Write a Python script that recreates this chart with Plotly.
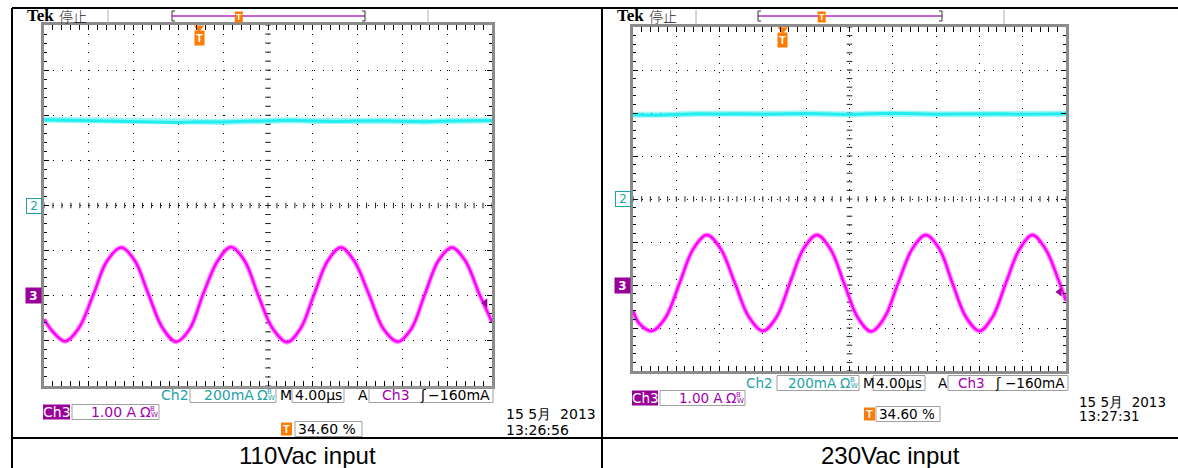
import numpy as np
import plotly.graph_objects as go

W, H = 1178, 468

# ---------------- data ----------------
TIME_PER_DIV_US = 4.0        # M 4.00 µs
N_DIV_X = 10
N_DIV_Y = 8
CH2_MA_PER_DIV = 200         # Ch2 200 mA/div
CH2_OFFSET_DIV = 0           # Ch2 ground marker at screen centre
CH3_A_PER_DIV = 1.0          # Ch3 1.00 A/div
CH3_OFFSET_DIV = -2          # Ch3 ground marker two divisions below centre
TRIG_POS_PCT = 34.60         # trigger position
TRIG_LEVEL_MA = -160         # Ch3 trigger level

captions = ["110Vac input", "230Vac input"]
dates = ["15 5月  2013", "15 5月  2013"]
times = ["13:26:56", "13:27:31"]

# Ch3 (magenta) current, A
left_ch3_t = [0.0, 0.8, 1.9, 3.1, 4.4, 5.6, 6.9, 8.1, 9.3, 10.6, 11.8, 13.0, 14.2, 15.5, 16.7,
              17.9, 19.1, 20.4, 21.7, 22.9, 24.1, 25.3, 26.5, 27.7, 29.0, 30.3, 31.6, 32.8,
              34.0, 35.2, 36.4, 37.6, 38.9, 40.0]
left_ch3_A = [-0.52, -0.80, -1.01, -0.72, 0.02, 0.76, 1.07, 0.78, 0.05, -0.72, -1.02, -0.74,
              0.03, 0.77, 1.08, 0.78, 0.03, -0.72, -1.03, -0.73, 0.02, 0.76, 1.07, 0.77, 0.04,
              -0.73, -1.02, -0.73, 0.03, 0.77, 1.07, 0.78, 0.02, -0.58]

right_ch3_t = [0.0, 0.6, 1.75, 3.0, 4.3, 5.55, 6.83, 8.1, 9.4, 10.7, 12.0, 13.25, 14.5, 15.75,
               17.0, 18.25, 19.5, 20.75, 22.0, 23.25, 24.5, 25.8, 27.05, 28.3, 29.5, 30.75,
               32.0, 33.2, 34.45, 35.7, 36.9, 38.1, 39.3, 40.0]
right_ch3_A = [-0.60, -0.90, -1.07, -0.76, 0.04, 0.83, 1.16, 0.84, 0.05, -0.74, -1.07, -0.75,
               0.05, 0.84, 1.16, 0.83, 0.04, -0.75, -1.08, -0.75, 0.05, 0.84, 1.16, 0.84, 0.05,
               -0.74, -1.07, -0.75, 0.05, 0.83, 1.16, 0.84, 0.12, -0.37]

# Ch2 (cyan) current, mA
left_ch2_t = [0, 2, 4, 6, 8, 10, 12, 14, 16, 18, 20, 22, 24, 26, 28, 30, 32, 34, 36, 38, 40]
left_ch2_mA = [380, 378, 379, 377, 372, 370, 368, 371, 370, 373, 376, 378, 375, 372, 374,
               376, 373, 371, 374, 375, 377]
right_ch2_t = [0, 2, 4, 6, 8, 10, 12, 14, 16, 18, 20, 22, 24, 26, 28, 30, 32, 34, 36, 38, 40]
right_ch2_mA = [392, 390, 393, 396, 395, 397, 394, 396, 398, 395, 393, 396, 399, 397, 394,
                395, 397, 396, 394, 395, 396]

# ---------------- styling ----------------
FONT = "DejaVu Sans"
TEAL = "#1fa3a8"
PURPLE = "#a000b0"
PURPLE_FILL = "#990099"
MAGENTA = "#ff00ff"
CYAN = "#22eef0"
ORANGE = "#ff7a00"
FRAME = "#8c8c8c"

T_SPAN = N_DIV_X * TIME_PER_DIV_US
trig_t = TRIG_POS_PCT / 100.0 * T_SPAN
ch3_lo = (-N_DIV_Y / 2 - CH3_OFFSET_DIV) * CH3_A_PER_DIV
ch3_hi = (N_DIV_Y / 2 - CH3_OFFSET_DIV) * CH3_A_PER_DIV
ch3_mid = (ch3_lo + ch3_hi) / 2
ch2_lo = (-N_DIV_Y / 2 - CH2_OFFSET_DIV) * CH2_MA_PER_DIV
ch2_hi = (N_DIV_Y / 2 - CH2_OFFSET_DIV) * CH2_MA_PER_DIV

panels = [
    dict(x0=44, x1=492, y0=25, y1=386, xa="x", ya="y", ya2="y2",
         t3=left_ch3_t, v3=left_ch3_A, t2=left_ch2_t, v2=left_ch2_mA,
         row1=395, row2=412, row3=429, fs=14,
         ch2=160, b1=(190, 276), m=279, b2=(292, 344), a=357, b3=(369, 493),
         ch3=(43, 70), b4=(72, 159), ticon=(281, 292), b5=(295, 362),
         date=(505, 414, 430), hdr=dict(tek=26, sep1=108, bar=(172, 365), sep2=428)),
    dict(x0=633, x1=1066, y0=27, y1=371, xa="x2", ya="y3", ya2="y4",
         t3=right_ch3_t, v3=right_ch3_A, t2=right_ch2_t, v2=right_ch2_mA,
         row1=383, row2=398, row3=414, fs=13.5,
         ch2=745, b1=(777, 859), m=862, b2=(873, 925), a=937, b3=(948, 1068),
         ch3=(632, 658), b4=(660, 745), ticon=(864, 875), b5=(876, 940),
         date=(1078, 402, 416), hdr=dict(tek=616, sep1=696, bar=(758, 942), sep2=1004)),
]


def px(x):
    return x / W


def py(y):
    return 1 - y / H


fig = go.Figure()
annotations = []
shapes = []


def txt(x, y, text, color="black", size=14, family=FONT, anchor="left", weight="normal"):
    annotations.append(dict(xref="paper", yref="paper", x=px(x), y=py(y), xanchor=anchor,
                            yanchor="middle", text=text, showarrow=False, borderpad=0,
                            font=dict(family=family, size=size, color=color, weight=weight)))


def rect(x0, x1, yc, h, line="#a0a0a0", fill=None):
    shapes.append(dict(type="rect", xref="paper", yref="paper", x0=px(x0), x1=px(x1),
                       y0=py(yc + h / 2), y1=py(yc - h / 2),
                       line=dict(color=line, width=1 if line else 0),
                       fillcolor=fill if fill else "rgba(0,0,0,0)"))


for i, p in enumerate(panels):
    xa, ya, ya2 = p["xa"], p["ya"], p["ya2"]
    fs = p["fs"]
    # centre-line tick marks (graticule)
    cx = np.arange(0, T_SPAN + 1e-9, TIME_PER_DIV_US / 5)
    fig.add_trace(go.Scatter(x=cx, y=np.full_like(cx, ch3_mid), xaxis=xa, yaxis=ya, mode="markers",
                             marker=dict(symbol="line-ns", size=4, line=dict(width=1, color="#222")),
                             hoverinfo="skip", showlegend=False))
    cy = np.arange(ch3_lo, ch3_hi + 1e-9, CH3_A_PER_DIV / 5)
    fig.add_trace(go.Scatter(x=np.full_like(cy, T_SPAN / 2), y=cy, xaxis=xa, yaxis=ya, mode="markers",
                             marker=dict(symbol="line-ew", size=4, line=dict(width=1, color="#222")),
                             hoverinfo="skip", showlegend=False))
    # Ch2 cyan trace (noisy band)
    fig.add_trace(go.Scatter(x=p["t2"], y=p["v2"], xaxis=xa, yaxis=ya2, mode="lines",
                             line=dict(color=CYAN, width=6), opacity=0.45,
                             hoverinfo="skip", showlegend=False))
    fig.add_trace(go.Scatter(x=p["t2"], y=p["v2"], xaxis=xa, yaxis=ya2, mode="lines",
                             line=dict(color=CYAN, width=3),
                             hoverinfo="skip", showlegend=False))
    # Ch3 magenta trace
    fig.add_trace(go.Scatter(x=p["t3"], y=p["v3"], xaxis=xa, yaxis=ya, mode="lines",
                             line=dict(color=MAGENTA, width=5, shape="spline", smoothing=1.0),
                             opacity=0.4, hoverinfo="skip", showlegend=False))
    fig.add_trace(go.Scatter(x=p["t3"], y=p["v3"], xaxis=xa, yaxis=ya, mode="lines",
                             line=dict(color=MAGENTA, width=2.5, shape="spline", smoothing=1.0),
                             hoverinfo="skip", showlegend=False))
    # trigger level marker at right edge
    fig.add_trace(go.Scatter(x=[T_SPAN * 0.985], y=[TRIG_LEVEL_MA / 1000.0], xaxis=xa, yaxis=ya,
                             mode="markers", cliponaxis=False,
                             marker=dict(symbol="triangle-left", size=8, color=PURPLE_FILL),
                             hoverinfo="skip", showlegend=False))
    # trigger position marker at top
    fig.add_trace(go.Scatter(x=[trig_t], y=[ch3_hi - 0.06 * CH3_A_PER_DIV], xaxis=xa, yaxis=ya,
                             mode="markers", cliponaxis=False,
                             marker=dict(symbol="triangle-down", size=9, color=ORANGE),
                             hoverinfo="skip", showlegend=False))
    annotations.append(dict(xref=xa, yref="paper", x=trig_t, y=py(p["y0"] + 5), yanchor="top",
                            text="T", showarrow=False, bgcolor=ORANGE, borderpad=1,
                            font=dict(family="Liberation Sans", size=11, color="white", weight="bold")))

    # ground markers
    annotations.append(dict(xref="paper", yref=ya2, x=px(p["x0"] - 2), y=0, xanchor="right",
                            yanchor="middle", text="2", showarrow=False, bgcolor="white",
                            bordercolor=TEAL, borderwidth=1, borderpad=0, width=14, height=14,
                            font=dict(family=FONT, size=12, color=TEAL)))
    annotations.append(dict(xref="paper", yref=ya, x=px(p["x0"] - 2), y=0, xanchor="right",
                            yanchor="middle", text="3", showarrow=False, bgcolor=PURPLE_FILL,
                            borderpad=0, width=15, height=15,
                            font=dict(family=FONT, size=12, color="white", weight="bold")))

    # ---- status line 1 ----
    r1 = p["row1"]
    txt(p["ch2"], r1, "Ch2", TEAL, fs)
    b = p["b1"]
    rect(b[0], b[1], r1, 15)
    txt(b[1] - 21, r1, f"{CH2_MA_PER_DIV}mA", TEAL, fs, anchor="right")
    txt(b[1] - 20, r1, "Ω", TEAL, fs)
    txt(b[1] - 10, r1 - 3, "B", TEAL, 7)
    txt(b[1] - 9, r1 + 3, "W", TEAL, 7)
    txt(p["m"], r1, "M", "black", fs)
    b = p["b2"]
    rect(b[0], b[1], r1, 15)
    txt(b[0] + 2, r1, f"{TIME_PER_DIV_US:.2f}µs", "black", fs)
    txt(p["a"], r1, "A", "black", fs)
    b = p["b3"]
    rect(b[0], b[1], r1, 15)
    txt(b[1] - 2, r1, f"−{abs(TRIG_LEVEL_MA)}mA", "black", fs, anchor="right")
    txt(b[1] - 70, r1, "ʃ", "black", fs, anchor="center")
    txt(b[1] - 82, r1, "Ch3", PURPLE, fs, anchor="right")

    # ---- status line 2 ----
    r2 = p["row2"]
    c = p["ch3"]
    rect(c[0], c[1], r2, 15, line=None, fill=PURPLE_FILL)
    txt((c[0] + c[1]) / 2, r2, "Ch3", "white", fs, anchor="center")
    b = p["b4"]
    rect(b[0], b[1], r2, 15)
    txt(b[1] - 21, r2, f"{CH3_A_PER_DIV:.2f} A", PURPLE, fs, anchor="right")
    txt(b[1] - 20, r2, "Ω", PURPLE, fs)
    txt(b[1] - 10, r2 - 3, "B", PURPLE, 7)
    txt(b[1] - 9, r2 + 3, "W", PURPLE, 7)

    # ---- status line 3 ----
    r3 = p["row3"]
    tc = p["ticon"]
    rect(tc[0], tc[1], r3, 13, line=None, fill=ORANGE)
    txt((tc[0] + tc[1]) / 2, r3, "T", "white", 11, "Liberation Sans", anchor="center", weight="bold")
    b = p["b5"]
    rect(b[0], b[1], r3, 15)
    txt(b[0] + 2, r3, f"{TRIG_POS_PCT:.2f} %", "black", fs)

    txt(p["date"][0], p["date"][1], dates[i], "black", fs)
    txt(p["date"][0], p["date"][2], times[i], "black", fs)

    # ---- header ----
    hd = p["hdr"]
    txt(hd["tek"], 16, "Tek", "black", 17, "Liberation Serif", weight="bold")
    txt(hd["tek"] + 32, 16, "停止", "#222", 14, "Noto Sans CJK SC", weight=300)
    for sx in (hd["sep1"], hd["sep2"]):
        shapes.append(dict(type="line", xref="paper", yref="paper", x0=px(sx), x1=px(sx),
                           y0=py(10), y1=py(24), line=dict(color="#b0b0b0", width=1)))
    b0, b1_ = hd["bar"]
    shapes.append(dict(type="line", xref="paper", yref="paper", x0=px(b0), x1=px(b1_),
                       y0=py(16), y1=py(16), line=dict(color="#b030c0", width=1.5)))
    for bx, d in ((b0, 3), (b1_, -3)):
        shapes.append(dict(type="path", xref="paper", yref="paper",
                           path=f"M {px(bx + d)},{py(11)} L {px(bx)},{py(11)} L {px(bx)},{py(21)} L {px(bx + d)},{py(21)}",
                           line=dict(color="#333", width=1)))
    tb = b0 + TRIG_POS_PCT / 100.0 * (b1_ - b0)
    rect(tb - 4, tb + 4, 17, 11, line=None, fill=ORANGE)
    txt(tb, 17, "T", "white", 9, "Liberation Sans", anchor="center", weight="bold")

    # caption
    cell = (12, 602) if i == 0 else (602, 1178)
    txt((cell[0] + cell[1]) / 2, 455, captions[i], "black", 24, "Liberation Sans", "center")

# table borders
for (x0, y0, x1, y1) in [(12, 8, 12, 468), (12, 8, 1178, 8), (602, 8, 602, 468), (12, 438, 1178, 438)]:
    shapes.append(dict(type="line", xref="paper", yref="paper", x0=px(x0), x1=px(x1),
                       y0=py(y0), y1=py(y1), line=dict(color="black", width=2)))


def xcfg(dom, anchor):
    return dict(domain=dom, anchor=anchor, range=[0, T_SPAN], tick0=0, dtick=TIME_PER_DIV_US,
                showgrid=True, gridcolor="black", gridwidth=1, griddash="1px,8px",
                showline=True, linecolor=FRAME, linewidth=3, mirror="allticks",
                ticks="inside", ticklen=5, tickwidth=1, tickcolor="black",
                minor=dict(dtick=TIME_PER_DIV_US / 5, ticks="inside", ticklen=3,
                           tickcolor="black", showgrid=False),
                showticklabels=False, zeroline=False, fixedrange=True)


def ycfg(dom, anchor):
    return dict(domain=dom, anchor=anchor, range=[ch3_lo, ch3_hi], tick0=0, dtick=CH3_A_PER_DIV,
                showgrid=True, gridcolor="black", gridwidth=1, griddash="1px,8px",
                showline=True, linecolor=FRAME, linewidth=3, mirror="allticks",
                ticks="inside", ticklen=5, tickwidth=1, tickcolor="black",
                minor=dict(dtick=CH3_A_PER_DIV / 5, ticks="inside", ticklen=3,
                           tickcolor="black", showgrid=False),
                showticklabels=False, zeroline=False, fixedrange=True)


def y2cfg(overlay, anchor):
    return dict(overlaying=overlay, anchor=anchor, range=[ch2_lo, ch2_hi], showgrid=False,
                showline=False, ticks="", showticklabels=False, zeroline=False, fixedrange=True)


L, R = panels
fig.update_layout(
    width=W, height=H, margin=dict(l=0, r=0, t=0, b=0),
    paper_bgcolor="white", plot_bgcolor="white", showlegend=False,
    xaxis=xcfg([px(L["x0"]), px(L["x1"])], "y"),
    yaxis=ycfg([py(L["y1"]), py(L["y0"])], "x"),
    yaxis2=y2cfg("y", "x"),
    xaxis2=xcfg([px(R["x0"]), px(R["x1"])], "y3"),
    yaxis3=ycfg([py(R["y1"]), py(R["y0"])], "x2"),
    yaxis4=y2cfg("y3", "x2"),
    annotations=annotations, shapes=shapes,
)

fig.write_html("out.html")
